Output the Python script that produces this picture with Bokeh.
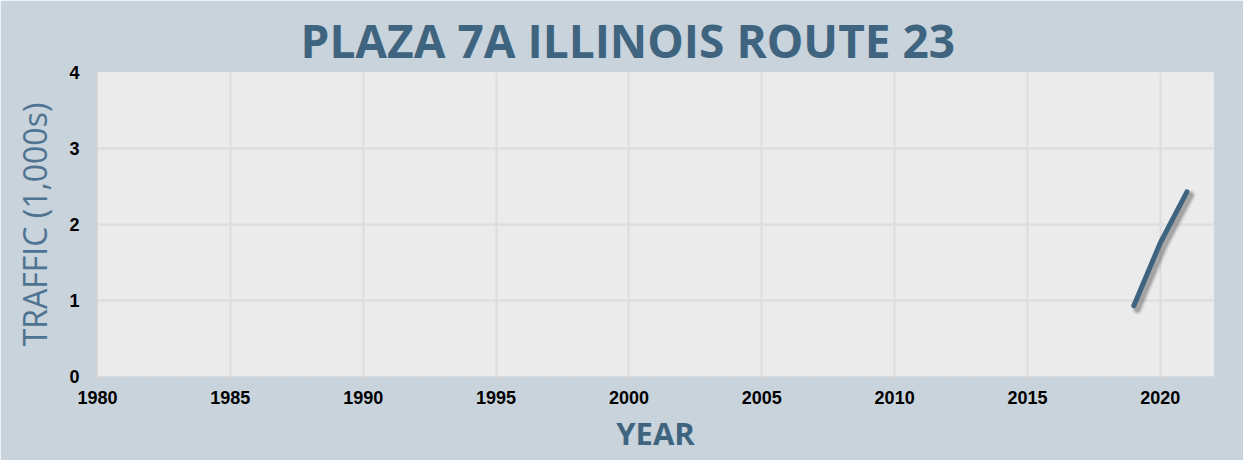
from bokeh.plotting import figure
from bokeh.embed import file_html
from bokeh.resources import INLINE
from bokeh.models import FixedTicker, Range1d, ColumnDataSource

years = [2019, 2020, 2021]
traffic = [0.93, 1.76, 2.43]
x_ticks = [1980, 1985, 1990, 1995, 2000, 2005, 2010, 2015, 2020]
y_ticks = [0, 1, 2, 3, 4]
title_text = "PLAZA 7A ILLINOIS ROUTE 23"
x_label = "YEAR"
y_label = "TRAFFIC (1,000s)"

BG = "#c8d3dc"
PLOT_BG = "#ebebeb"
GRID = "#dcdcdc"
DARK = "#3f6480"

p = figure(width=1243, height=460, output_backend="svg", toolbar_location=None,
           x_range=Range1d(1980, 2022), y_range=Range1d(0, 4),
           min_border_left=97, min_border_right=30, min_border_top=72, min_border_bottom=84)
p.background_fill_color = PLOT_BG
p.border_fill_color = BG
p.outline_line_color = None

p.title.text = title_text
p.title.align = "left"
p.title.offset = 203
p.title.standoff = 0
p.title.vertical_align = "top"
p.title.text_font = "Open Sans"
p.title.text_font_style = "bold"
p.title.text_font_size = "46px"
p.title.text_color = DARK

# grid
p.xgrid.grid_line_color = GRID
p.ygrid.grid_line_color = GRID
p.xgrid.grid_line_width = 2
p.ygrid.grid_line_width = 2

# axes
p.xaxis.ticker = FixedTicker(ticks=x_ticks, minor_ticks=list(range(1980, 2023)))
p.yaxis.ticker = FixedTicker(ticks=y_ticks)
for ax in (p.xaxis[0], p.yaxis[0]):
    ax.axis_line_color = "#d8d8d8"
    ax.major_tick_line_color = "#d0d0d0"
    ax.minor_tick_line_color = "#d0d0d0"
    ax.major_label_text_font = "Liberation Sans"
    ax.major_label_text_font_style = "bold"
    ax.major_label_text_font_size = "18px"
    ax.major_label_text_color = "#000000"
p.xaxis.major_tick_in = 0
p.xaxis.major_tick_out = 5
p.xaxis.minor_tick_in = 0
p.xaxis.minor_tick_out = 3
p.yaxis.major_tick_in = 0
p.yaxis.major_tick_out = 6
p.yaxis.minor_tick_line_color = None
p.xaxis.major_label_standoff = 9
p.yaxis.major_label_standoff = 12

p.xaxis.axis_label = x_label
p.xaxis.axis_label_text_font = "Open Sans"
p.xaxis.axis_label_text_font_style = "bold"
p.xaxis.axis_label_text_font_size = "31px"
p.xaxis.axis_label_text_color = DARK
p.xaxis.axis_label_standoff = 5

p.yaxis.axis_label = y_label
p.yaxis.axis_label_text_font = "Open Sans"
p.yaxis.axis_label_text_font_style = "normal"
p.yaxis.axis_label_text_font_size = "32px"
p.yaxis.axis_label_text_color = "#4f7390"
p.yaxis.axis_label_standoff = 10

# shadow (offset a few pixels down-right)
dx = 3.5 / 26.6
dy = 3.5 / 76.0
shadow = ColumnDataSource(dict(x=[v + dx for v in years], y=[v - dy for v in traffic]))
for w, a in [(11, 0.06), (9, 0.08), (7, 0.12), (5, 0.18)]:
    p.line("x", "y", source=shadow, line_width=w, line_color="#333333", line_alpha=a,
           line_cap="round", line_join="round")

src = ColumnDataSource(dict(x=years, y=traffic))
p.line("x", "y", source=src, line_width=5, line_color=DARK, line_cap="round", line_join="round")

open("out.html", "w").write(file_html(p, INLINE))
